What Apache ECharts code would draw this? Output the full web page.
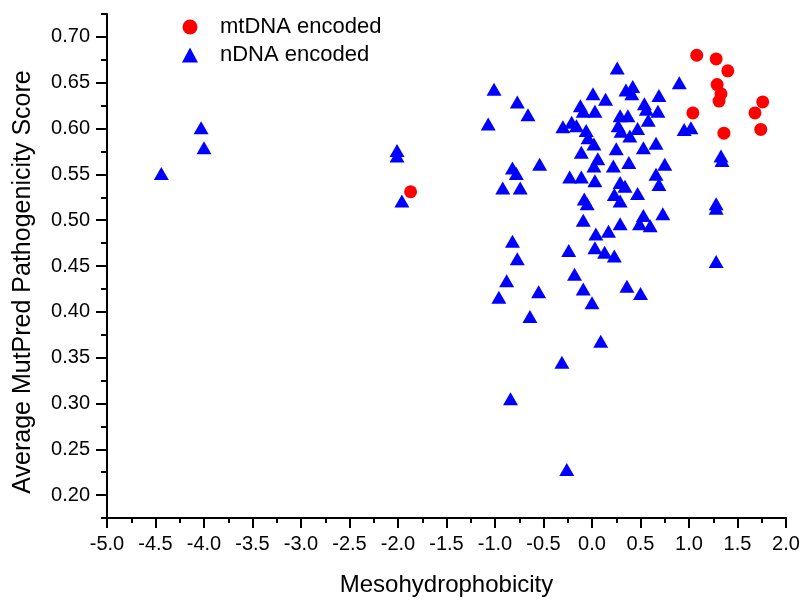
<!DOCTYPE html>
<html>
<head>
<meta charset="utf-8">
<title>Mesohydrophobicity vs MutPred score</title>
<script src="https://cdn.jsdelivr.net/npm/echarts@6.0.0/dist/echarts.min.js"></script>
<style>
  html, body { margin: 0; padding: 0; background: #fff; }
  #chart { width: 812px; height: 604px; }
</style>
</head>
<body>
<div id="chart"></div>
<script>
// tick labels
const xTicks = [-5.0, -4.5, -4.0, -3.5, -3.0, -2.5, -2.0, -1.5, -1.0, -0.5, 0.0, 0.5, 1.0, 1.5, 2.0];
const yTicks = [0.20, 0.25, 0.30, 0.35, 0.40, 0.45, 0.50, 0.55, 0.60, 0.65, 0.70];

// mtDNA encoded (red circles)
const mtX = [1.08, 1.28, 1.40, 1.29, 1.33, 1.31, 1.04, 1.36, 1.76, 1.68, 1.74, -1.87];
const mtY = [0.680, 0.676, 0.663, 0.648, 0.638, 0.630, 0.617, 0.595, 0.629, 0.617, 0.599, 0.531];

// nDNA encoded (blue triangles)
const nX = [-4.03, -4.00, -4.44, -2.01, -2.01, -1.96, -1.01, -0.77, -0.66, -1.07,
  -0.30, -0.21, -0.16, -0.12, -0.09, 0.01, 0.03, -0.06, -0.04, 0.02,
  -0.11, -0.82, -0.78, -0.54, -0.23, -0.11, 0.02, 0.06, 0.26, 0.90,
  0.14, 0.35, 0.42, 0.41, 0.69, 0.54, 0.56, 0.68, 0.29, 0.37,
  0.58, 0.27, 0.30, 0.47, 0.39, 0.95, 1.02, 0.25, 0.53, 0.66,
  0.22, 0.38, 0.75, 0.66, 1.33, 1.34, 0.69, 0.03, 0.29, 0.34,
  0.47, 0.23, 0.29, 1.28, 1.28, 0.53, 0.49, 0.60, 0.73, 0.29,
  0.17, 0.04, 0.03, 0.13, 0.23, 1.28, 0.36, 0.50, -0.92, -0.74,
  -0.08, -0.05, -0.09, -0.82, -0.77, -0.24, -0.88, -0.96, -0.18, -0.09,
  -0.55, 0.00, -0.64, 0.09, -0.31, -0.84, -0.26];
const nY = [0.601, 0.579, 0.551, 0.576, 0.570, 0.521, 0.643, 0.629, 0.615, 0.605,
  0.602, 0.607, 0.603, 0.625, 0.619, 0.638, 0.619, 0.598, 0.590, 0.583,
  0.574, 0.557, 0.551, 0.561, 0.547, 0.547, 0.559, 0.567, 0.666, 0.650,
  0.632, 0.642, 0.646, 0.638, 0.636, 0.627, 0.621, 0.619, 0.614, 0.614,
  0.609, 0.603, 0.597, 0.600, 0.592, 0.599, 0.601, 0.578, 0.579, 0.584,
  0.559, 0.563, 0.561, 0.550, 0.570, 0.565, 0.539, 0.543, 0.541, 0.537,
  0.529, 0.528, 0.521, 0.518, 0.513, 0.505, 0.496, 0.494, 0.507, 0.496,
  0.488, 0.485, 0.470, 0.465, 0.461, 0.455, 0.428, 0.420, 0.535, 0.535,
  0.523, 0.518, 0.500, 0.477, 0.458, 0.467, 0.434, 0.416, 0.441, 0.425,
  0.422, 0.410, 0.395, 0.368, 0.345, 0.305, 0.228];

const FONT = '"Liberation Sans", Arial, sans-serif';
const axisColor = '#000';

const chart = echarts.init(document.getElementById('chart'));

chart.setOption({
  animation: false,
  backgroundColor: '#fff',
  grid: { left: 107, right: 26, top: 14, bottom: 86 },
  legend: {
    orient: 'vertical',
    left: 177,
    top: 11,
    itemWidth: 16,
    itemHeight: 15,
    itemGap: 6,
    data: [
      { name: 'mtDNA encoded', icon: 'circle' },
      { name: 'nDNA encoded', icon: 'triangle' }
    ],
    textStyle: { fontSize: 22, color: '#000', fontFamily: FONT, padding: [0, 0, 0, 17] }
  },
  xAxis: {
    type: 'value',
    min: -5,
    max: 2,
    interval: 0.5,
    name: 'Mesohydrophobicity',
    nameLocation: 'middle',
    nameGap: 55,
    nameTextStyle: { fontSize: 24, color: '#000', fontFamily: FONT },
    axisLine: { onZero: false, lineStyle: { color: axisColor, width: 2 } },
    axisTick: { length: 10, lineStyle: { color: axisColor, width: 2 } },
    minorTick: { show: true, splitNumber: 2, length: 5, lineStyle: { color: axisColor, width: 2 } },
    axisLabel: {
      customValues: xTicks,
      formatter: (v) => v.toFixed(1),
      fontSize: 20,
      color: '#000',
      fontFamily: FONT,
      margin: 16
    },
    splitLine: { show: false },
    minorSplitLine: { show: false }
  },
  yAxis: [
    {
      type: 'value',
      min: 0.175,
      max: 0.725,
      axisLine: { show: true, onZero: false, lineStyle: { color: axisColor, width: 2 } },
      axisTick: { show: true, customValues: yTicks, length: 11, lineStyle: { color: axisColor, width: 2 } },
      axisLabel: {
        customValues: yTicks,
        formatter: (v) => v.toFixed(2),
        fontSize: 20,
        color: '#000',
        fontFamily: FONT,
        margin: 17
      },
      splitLine: { show: false }
    },
    {
      // minor ticks
      type: 'value',
      position: 'left',
      min: 0.175,
      max: 0.725,
      interval: 0.025,
      axisLine: { show: false, onZero: false },
      axisTick: { show: true, length: 6, lineStyle: { color: axisColor, width: 2 } },
      axisLabel: { show: false },
      splitLine: { show: false }
    }
  ],
  graphic: [{
    type: 'text',
    x: 23,
    y: 282,
    rotation: Math.PI / 2,
    style: {
      text: 'Average MutPred Pathogenicity Score',
      fill: '#000',
      font: '25px ' + FONT,
      align: 'center',
      verticalAlign: 'middle'
    }
  }],
  series: [
    {
      name: 'nDNA encoded',
      type: 'scatter',
      symbol: 'triangle',
      symbolSize: [15, 13],
      itemStyle: { color: '#0000ff', opacity: 1 },
      data: nX.map((x, i) => [x, nY[i]])
    },
    {
      name: 'mtDNA encoded',
      type: 'scatter',
      symbol: 'circle',
      symbolSize: 13,
      itemStyle: { color: '#ff0000', opacity: 1 },
      data: mtX.map((x, i) => [x, mtY[i]])
    }
  ]
});
</script>
</body>
</html>
